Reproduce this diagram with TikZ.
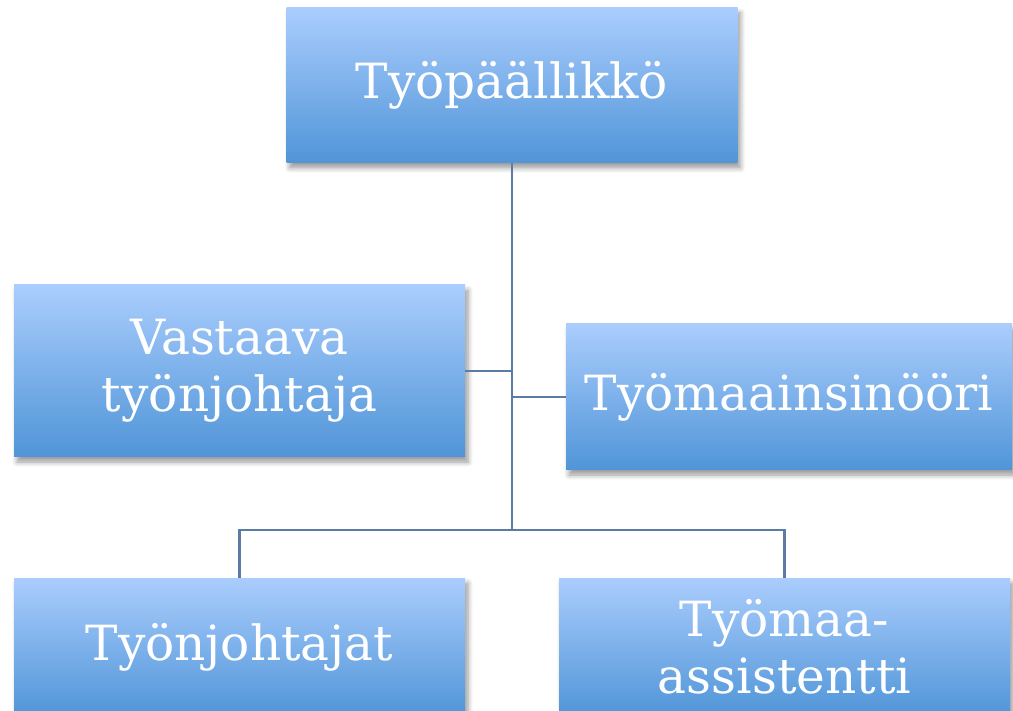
\documentclass[tikz,border=0pt]{standalone}
\usepackage{fontspec}
\setmainfont{DejaVu Serif}
\usetikzlibrary{positioning,shadows.blur}
\definecolor{boxtop}{HTML}{AACDFD}
\definecolor{boxbot}{HTML}{5095D8}
\definecolor{linkcol}{HTML}{5A7BA3}
\tikzset{
  orgbox/.style={rectangle, minimum width=451pt, top color=boxtop, bottom color=boxbot,
    text=white, align=center, font=\fontsize{48.5}{57}\selectfont,
    blur shadow={shadow xshift=3pt, shadow yshift=-5pt, shadow blur steps=6, shadow blur radius=5pt, shadow opacity=40}},
  link/.style={draw=linkcol, line width=2.2pt}
}
\begin{document}
\begin{tikzpicture}[x=1pt, y=-1pt]
  \useasboundingbox (0,0) rectangle (1013,711);
  \clip (0,0) rectangle (1013,711);
  % boxes
  \node[orgbox, minimum height=155pt] (chief) at (512,85.5) {Työpäällikkö};
  \node[orgbox, minimum height=172pt] (foreman) at (239.5,371) {Vastaava\\työnjohtaja};
  \node[orgbox, minimum width=446pt, minimum height=146pt] (engineer) at (789,397) {Työmaainsinööri};
  \node[orgbox, minimum height=138pt] (foremen) at (239.5,647) {Työnjohtajat};
  \node[orgbox, minimum height=138pt] (assistant) at (784.5,647) {Työmaa-\\assistentti};
  % connectors
  \coordinate (hub) at (512,530);
  \draw[link] (chief.south) -- (hub);
  \draw[link] (foreman.east) -- (foreman.east -| hub);
  \draw[link] (engineer.west) -- (engineer.west -| hub);
  \draw[link] (foremen.north) |- (hub) -| (assistant.north);
\end{tikzpicture}
\end{document}
